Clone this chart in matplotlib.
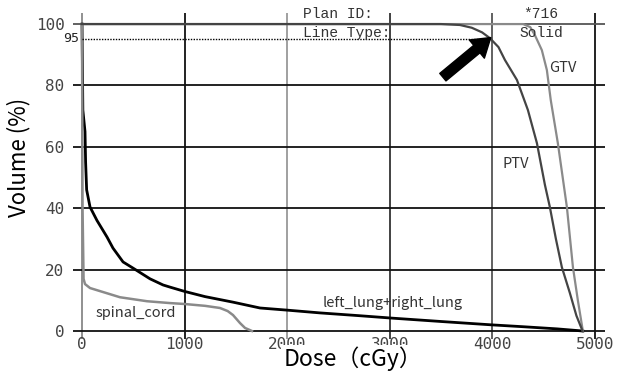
import matplotlib
matplotlib.use("Agg")
import matplotlib.pyplot as plt

# ---- data ----
ptv_dose = [0, 3500, 3684, 3800, 3900, 3977, 4060, 4123, 4240, 4347, 4435, 4513, 4561, 4620, 4678, 4756, 4820, 4880]
ptv_vol = [100, 100, 99.7, 98.8, 97.3, 95.4, 92.5, 88.3, 81.8, 72, 61.2, 47.6, 40.4, 30, 20.8, 12.4, 5, 0]

gtv_dose = [0, 4300, 4370, 4415, 4483, 4532, 4570, 4639, 4727, 4786, 4834, 4883]
gtv_vol = [100, 100, 99, 96.4, 91.5, 85, 75.2, 61.2, 40.4, 20.8, 10, 0]

lung_dose = [0, 8, 29, 35, 45, 78, 146, 244, 302, 400, 497, 663, 790, 858, 1000, 1200,
             1472, 1735, 2000, 2320, 2700, 3021, 3500, 3996, 4300, 4630, 4883]
lung_vol = [100, 72, 65, 55, 46, 40.4, 36, 30.6, 27, 22.5, 20.5, 17, 15, 14.3, 12.9, 11.2,
            9.4, 7.5, 6.8, 5.9, 5, 4.2, 3.1, 2, 1.4, 0.7, 0]

cord_dose = [0, 5, 15, 29, 78, 370, 634, 858, 1000, 1200, 1345, 1420, 1472, 1540, 1589, 1657]
cord_vol = [100, 40, 17, 15.3, 14, 11, 9.7, 9.1, 8.8, 8.2, 7.5, 6.5, 5.2, 2.6, 1, 0]

x_ticks = [0, 1000, 2000, 3000, 4000, 5000]
y_ticks = [0, 20, 40, 60, 80, 100]
x_grid_colors = ["#888888", "#111111", "#999999", "#333333", "#555555", "#111111"]
y_grid_colors = ["#111111", "#111111", "#111111", "#111111", "#111111", "#555555"]

ref_level = 95
ref_dose = 3960

sans = ["Noto Sans CJK JP", "DejaVu Sans"]

fig = plt.figure(figsize=(6.19, 3.71), dpi=100)
ax = fig.add_axes([0.1176, 0.0871, 0.860, 0.877])

ax.set_xlim(-90, 5100)
ax.set_ylim(-2.5, 103.5)
for s in ax.spines.values():
    s.set_visible(False)

ax.set_xticks(x_ticks)
ax.set_yticks(y_ticks)
ax.tick_params(axis="both", length=0, labelsize=11.5, labelcolor="#444444")
ax.tick_params(axis="x", pad=-1)
ax.tick_params(axis="y", pad=6)
for lab in ax.get_xticklabels() + ax.get_yticklabels():
    lab.set_family("DejaVu Sans Mono")

ax.grid(True, linewidth=1.3)
for gl, c in zip(ax.get_xgridlines(), x_grid_colors):
    gl.set_color(c)
for gl, c in zip(ax.get_ygridlines(), y_grid_colors):
    gl.set_color(c)
ax.set_axisbelow(True)

# curves
ax.plot(lung_dose, lung_vol, color="#000000", lw=2.0)
ax.plot(cord_dose, cord_vol, color="#8a8a8a", lw=1.8)
ax.plot(gtv_dose, gtv_vol, color="#8a8a8a", lw=1.6)
ax.plot(ptv_dose, ptv_vol, color="#444444", lw=1.6)

# 95% reference
ax.plot([0, ref_dose], [ref_level, ref_level], color="black", lw=1.0, ls=(0, (1, 1)))
ax.text(-30, ref_level + 0.3, "95", ha="right", va="center", fontsize=9.5,
        family="DejaVu Sans Mono", color="#222222")

# arrow
ax.annotate("", xy=(3985, 95.6), xytext=(3518, 82.7),
            arrowprops=dict(facecolor="black", edgecolor="black", width=7,
                            headwidth=17, headlength=13, shrink=0))

# header text
mono = dict(family="Liberation Mono", fontsize=10.5, color="#333333")
ax.text(2150, 103.3, "Plan ID:", ha="left", va="center", **mono)
ax.text(2150, 97.0, "Line Type:", ha="left", va="center", **mono)
ax.text(4474, 103.3, "*716", ha="center", va="center", **mono)
ax.text(4474, 97.0, "Solid", ha="center", va="center", **mono)

# structure labels
lab = dict(family=sans, fontsize=10.5, color="#333333")
ax.text(4550, 85.7, "GTV", ha="left", va="center", **lab)
ax.text(4100, 54.5, "PTV", ha="left", va="center", **lab)
ax.text(136, 5.8, "spinal_cord", ha="left", va="center", **lab)
ax.text(2350, 9.0, "left_lung+right_lung", ha="left", va="center", **lab)

ax.set_xlabel("Dose（cGy）", family=sans, fontsize=16.5,
              bbox=dict(facecolor="white", edgecolor="none", boxstyle="square,pad=0.1"))
ax.xaxis.set_label_coords(0.526, -0.025)
ax.set_ylabel("Volume (%)", family=sans, fontsize=16)
ax.yaxis.set_label_coords(-0.080, 0.558)

fig.savefig("out.png", dpi=100)
